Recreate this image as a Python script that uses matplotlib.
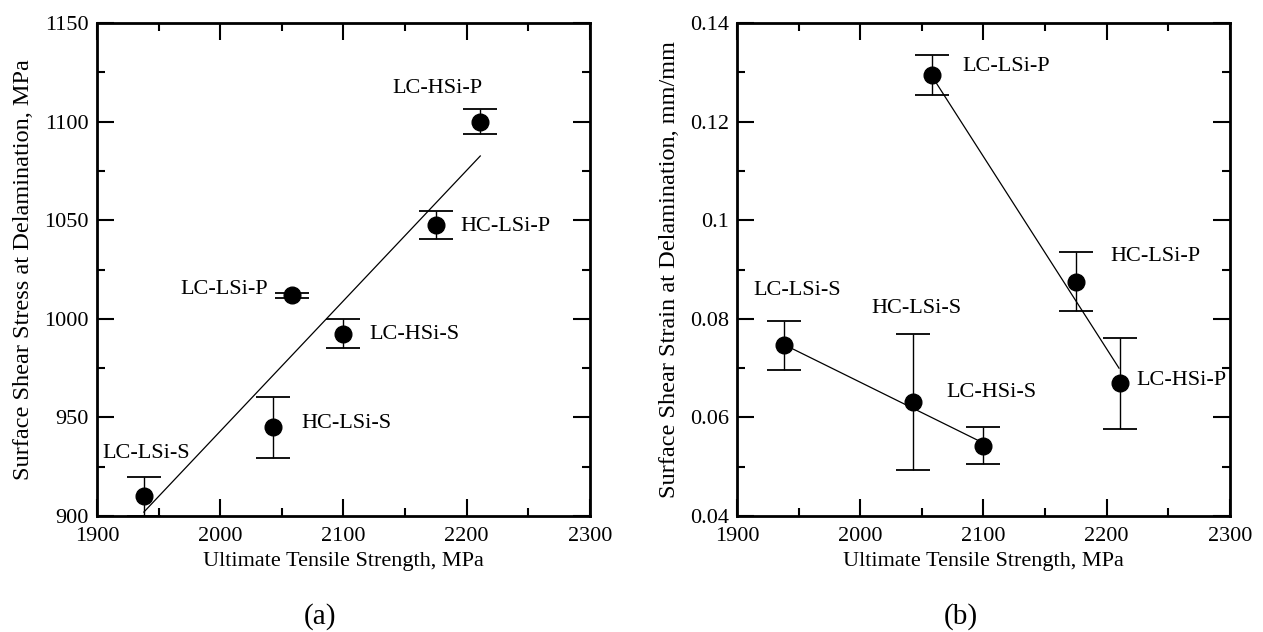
import matplotlib
matplotlib.use("Agg")
import matplotlib.pyplot as plt
from matplotlib.ticker import MultipleLocator, FixedLocator, FixedFormatter

plt.rcParams["font.family"] = ["Liberation Serif", "DejaVu Serif"]

# sample names
names = ["LC-LSi-S", "HC-LSi-S", "LC-HSi-S", "LC-LSi-P", "HC-LSi-P", "LC-HSi-P"]
uts = [1938, 2043, 2100, 2058, 2175, 2211]

# (a) shear stress at delamination
stress = [910, 945, 992.5, 1012, 1047.5, 1100]
stress_err = [10, 15.5, 7.5, 1.2, 7.2, 6.5]
stress_fit_x = [1938, 2211]
stress_fit_y = [902, 1082.6]
stress_lbl_x = [1940, 2066, 2121, 2039, 2195, 2176]
stress_lbl_y = [931.5, 947, 992, 1015, 1047, 1117]
stress_lbl_ha = ["center", "left", "left", "right", "left", "center"]

# (b) shear strain at delamination
strain = [0.0746, 0.0631, 0.0543, 0.1295, 0.0875, 0.0669]
strain_err = [0.005, 0.0138, 0.0037, 0.004, 0.006, 0.0093]
strain_fit_s_x = [1938, 2100]
strain_fit_s_y = [0.0748, 0.0548]
strain_fit_p_x = [2058, 2210]
strain_fit_p_y = [0.1293, 0.070]
strain_lbl_x = [1913, 2009, 2070, 2083, 2203, 2224]
strain_lbl_y = [0.0858, 0.082, 0.065, 0.1311, 0.0927, 0.0674]

fig = plt.figure(figsize=(12.63, 6.32), dpi=100)
ax1 = fig.add_axes([0.0768, 0.1835, 0.3903, 0.780])
ax2 = fig.add_axes([0.5835, 0.1835, 0.3903, 0.780])


def style_axes(ax):
    for s in ax.spines.values():
        s.set_linewidth(2)
    ax.xaxis.set_major_locator(MultipleLocator(100))
    ax.xaxis.set_minor_locator(MultipleLocator(50))
    ax.tick_params(which="both", direction="in", top=True, right=True,
                   labelsize=16)
    ax.tick_params(which="major", length=12, width=1.5)
    ax.tick_params(which="minor", length=6, width=1.5)
    ax.tick_params(axis="x", pad=8)
    ax.tick_params(axis="y", pad=6)
    ax.set_xlim(1900, 2300)
    ax.set_xlabel("Ultimate Tensile Strength, MPa", fontsize=16)
    ax.xaxis.set_label_coords(0.5, -0.073)
    ax.xaxis.label.set_va("top")


# panel (a)
ax1.errorbar(uts, stress, yerr=stress_err, fmt="o", color="black",
             markersize=12, capsize=12, capthick=1.3, elinewidth=1)
ax1.plot(stress_fit_x, stress_fit_y, color="black", linewidth=0.9)
for n, x, y, ha in zip(names, stress_lbl_x, stress_lbl_y, stress_lbl_ha):
    ax1.text(x, y, n, fontsize=16, ha=ha, va="center")
style_axes(ax1)
ax1.set_ylim(900, 1150)
ax1.yaxis.set_major_locator(MultipleLocator(50))
ax1.yaxis.set_minor_locator(MultipleLocator(25))
ax1.set_ylabel("Surface Shear Stress at Delamination, MPa", fontsize=17.5,
               labelpad=7)

# panel (b)
ax2.errorbar(uts, strain, yerr=strain_err, fmt="o", color="black",
             markersize=12, capsize=12, capthick=1.3, elinewidth=1)
ax2.plot(strain_fit_s_x, strain_fit_s_y, color="black", linewidth=0.9)
ax2.plot(strain_fit_p_x, strain_fit_p_y, color="black", linewidth=0.9)
for n, x, y in zip(names, strain_lbl_x, strain_lbl_y):
    ax2.text(x, y, n, fontsize=16, ha="left", va="center")
style_axes(ax2)
ax2.set_ylim(0.04, 0.14)
yt = [0.04, 0.06, 0.08, 0.1, 0.12, 0.14]
ax2.yaxis.set_major_locator(FixedLocator(yt))
ax2.yaxis.set_major_formatter(FixedFormatter(["0.04", "0.06", "0.08", "0.1", "0.12", "0.14"]))
ax2.yaxis.set_minor_locator(MultipleLocator(0.01))
ax2.set_ylabel("Surface Shear Strain at Delamination, mm/mm", fontsize=17.5,
               labelpad=7)

fig.text(0.2534, 0.024, "(a)", fontsize=21, ha="center", va="center")
fig.text(0.761, 0.024, "(b)", fontsize=21, ha="center", va="center")

fig.savefig("out.png", dpi=100)
